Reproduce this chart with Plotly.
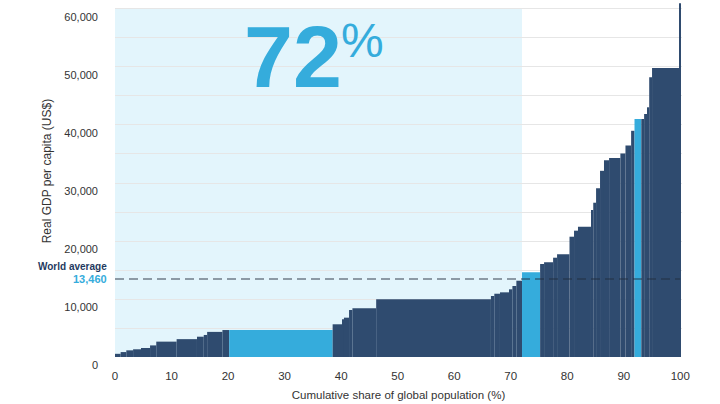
import numpy as np
import plotly.graph_objs as go

# share of world population of each country group (%), sorted by income
pop_share = [1.0, 1.0, 1.2, 1.4, 1.6, 1.1, 3.6, 3.6, 1.2, 0.6, 2.7, 1.2, 18.3,
             1.7, 0.3, 0.9, 0.6, 4.2, 20.3, 0.6, 1.0, 1.6, 0.6, 0.7, 1.0, 3.2,
             0.7, 1.6, 0.7, 2.2, 0.8, 0.7, 2.3, 0.4, 0.5, 0.7, 0.7, 0.9, 2.0,
             0.9, 1.0, 0.6, 1.2, 0.5, 0.6, 0.3, 0.5, 4.8, 0.1, 0.1]
# real GDP per capita (US$)
gdp_pc = [550, 850, 1150, 1330, 1550, 2000, 2650, 3080, 3500, 3800, 4330, 4650,
          4650, 5640, 6500, 6780, 8100, 8390, 9950, 10520, 10910, 11150, 11670,
          12240, 13150, 14600, 16030, 16320, 17120, 17700, 20740, 21780, 22470,
          25340, 26600, 29080, 32100, 33900, 34300, 35100, 36450, 39000, 41030,
          41030, 41900, 43050, 48220, 49820, 51670, 61000]
highlight_idx = [12, 25, 42]

world_avg = 13460
share_below = 72
x_ticks = list(range(0, 101, 10))
y_ticks = list(range(0, 60001, 5000))
y_ticktext = ['{:,}'.format(v) if v % 10000 == 0 else '' for v in y_ticks]

DARK = '#2f4b6f'
BLUE = '#35acdc'
PALE = '#e3f5fc'
FONT = 'Liberation Sans, Arial, sans-serif'

lefts = np.concatenate([[0], np.cumsum(pop_share)[:-1]])
colors = [BLUE if i in highlight_idx else DARK for i in range(len(gdp_pc))]

trace0 = go.Bar(
    x=lefts,
    y=gdp_pc,
    width=pop_share,
    offset=0,
    marker=dict(color=colors, line=dict(width=0)),
    hoverinfo='skip'
)

fig = go.Figure(data=[trace0])

fig.update_layout(
    width=720, height=404,
    margin=dict(l=115, r=38, t=0, b=47),
    plot_bgcolor='white', paper_bgcolor='white',
    showlegend=False,
    font=dict(family=FONT, size=12, color='#333333'),
    xaxis=dict(range=[0, 100.3], tickvals=x_ticks, showgrid=False,
               zeroline=False, showline=False, ticklabelstandoff=10,
               tickfont=dict(size=11.5, color='#333333'),
               title=dict(text='Cumulative share of global population (%)',
                          font=dict(size=11.5, color='#333333'), standoff=10)),
    yaxis=dict(range=[0, 61550], tickvals=y_ticks, ticktext=y_ticktext,
               showgrid=True, gridcolor='#e6e6e6', gridwidth=1,
               zeroline=False, showline=False, ticklabelstandoff=16,
               ticklabelshift=8, tickfont=dict(size=11, color='#333333')),
    shapes=[
        dict(type='rect', xref='x', yref='y', x0=0, x1=share_below, y0=0,
             y1=60100, fillcolor=PALE, line=dict(width=0), layer='below'),
        dict(type='line', xref='x', yref='y', x0=0, x1=100, y0=world_avg,
             y1=world_avg, line=dict(color='rgba(35,45,60,0.6)', width=1.5,
                                     dash='9px,5px'), layer='above'),
    ],
    annotations=[
        dict(text='Real GDP per capita (US$)', xref='paper', yref='paper',
             x=-77 / 567, y=0.52, textangle=-90, showarrow=False,
             font=dict(size=12, color='#333333')),
        dict(text='<b>World average</b>', xref='paper', yref='y', x=-6 / 567,
             y=world_avg, yshift=12, xanchor='right', showarrow=False,
             font=dict(size=10, color='#1f3a5f')),
        dict(text='<b>{:,}</b>'.format(world_avg), xref='paper', yref='y',
             x=-6 / 567, y=world_avg, xanchor='right', showarrow=False,
             font=dict(size=11, color=BLUE)),
        dict(text='<b>{}</b>'.format(share_below), xref='x', yref='paper',
             x=31.4, y=1 - 5 / 357, showarrow=False,
             font=dict(size=88, color=BLUE)),
        dict(text='%', xref='x', yref='paper', x=39.7, y=1 - 12 / 357,
             xanchor='left', yanchor='top', showarrow=False,
             font=dict(size=48, color=BLUE)),
    ]
)

fig.write_html('out.html', config={'displayModeBar': False},
               post_script="document.body.style.margin='0';")
